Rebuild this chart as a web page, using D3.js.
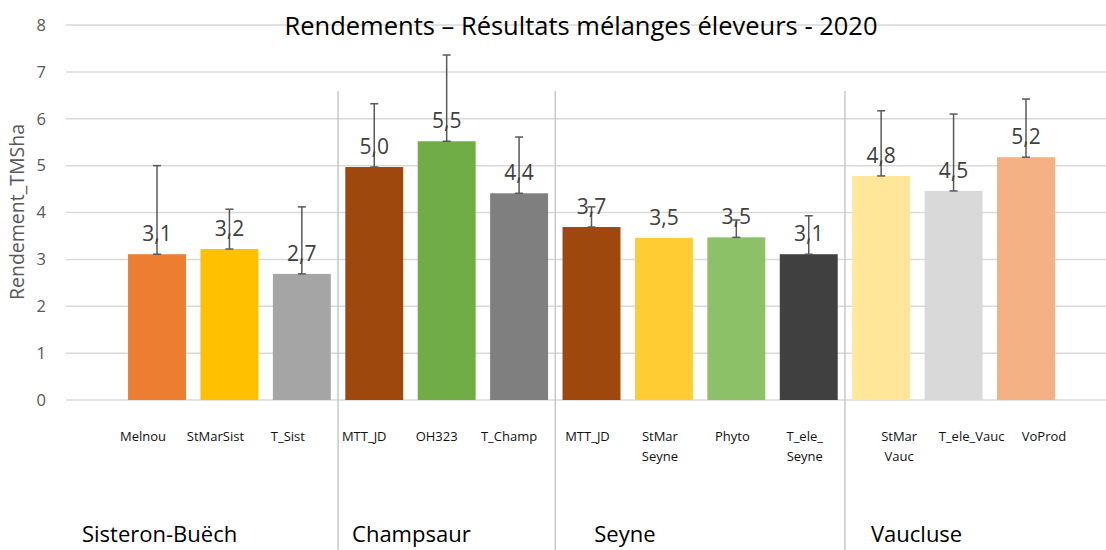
<!DOCTYPE html>
<html>
<head>
<meta charset="utf-8">
<script src="https://cdn.jsdelivr.net/npm/d3@7"></script>
<style>
  body { margin: 0; background: #fff; }
  svg { display: block; font-family: "Open Sans", sans-serif; }
</style>
</head>
<body>
<svg id="chart"></svg>
<script>
var w = 1106;
var h = 550;
var margin = { top: 25, right: 0, bottom: 150, left: 66 };

// data
var groups = ["Sisteron-Buëch", "Champsaur", "Seyne", "Vaucluse"];
var groupOf = [0, 0, 0, 1, 1, 1, 2, 2, 2, 2, 3, 3, 3];
var labels = ["Melnou", "StMarSist", "T_Sist", "MTT_JD", "OH323", "T_Champ",
  "MTT_JD", "StMar\nSeyne", "Phyto", "T_ele_\nSeyne",
  "StMar\nVauc", "T_ele_Vauc", "VoProd"];
var values = [3.11, 3.22, 2.69, 4.97, 5.52, 4.41, 3.69, 3.46, 3.47, 3.11, 4.78, 4.46, 5.18];
var errors = [1.89, 0.85, 1.43, 1.35, 1.84, 1.2, 0.43, 0, 0.37, 0.82, 1.39, 1.64, 1.24];
var colors = ["#ED7D31", "#FFC000", "#A5A5A5", "#9E480E", "#70AD47", "#7F7F7F",
  "#9E480E", "#FFCD33", "#8CC168", "#404040", "#FFE699", "#D9D9D9", "#F4B183"];
var yTicks = [0, 1, 2, 3, 4, 5, 6, 7, 8];

// hand-placed text boxes in the original
var labelNudge = [-14, -10, -4, 18];
var groupLabelNudge = [16, 14, 39, 26];

var svg = d3.select("#chart").attr("width", w).attr("height", h);

var xScale = d3
  .scaleBand()
  .domain(d3.range(values.length))
  .range([120.8, 1062.2])
  .paddingInner(0.2)
  .paddingOuter(0.1);

var yScale = d3
  .scaleLinear()
  .domain([0, 8])
  .range([400, margin.top]);

// gridlines
svg
  .append("g")
  .selectAll("line")
  .data(yTicks)
  .enter()
  .append("line")
  .attr("x1", margin.left)
  .attr("x2", w)
  .attr("y1", function(d) { return yScale(d); })
  .attr("y2", function(d) { return yScale(d); })
  .attr("stroke", "#d9d9d9")
  .attr("stroke-width", 1.5);

// y axis labels
var yAxis = svg
  .append("g")
  .attr("transform", "translate(" + margin.left + ",0)")
  .call(d3.axisLeft(yScale).tickValues(yTicks).tickSize(0).tickPadding(20));
yAxis.select(".domain").remove();
yAxis
  .selectAll("text")
  .style("font", "16.5px 'Open Sans', sans-serif")
  .attr("fill", "#595959");

svg
  .append("text")
  .attr("transform", "translate(24,212) rotate(-90)")
  .attr("text-anchor", "middle")
  .style("font-size", "19.5px")
  .attr("fill", "#595959")
  .text("Rendement_TMSha");

// group separators
var step = xScale.step();
var seps = [];
for (var i = 1; i < values.length; i++) {
  if (groupOf[i] !== groupOf[i - 1]) seps.push(i);
}
svg
  .append("g")
  .selectAll("line")
  .data(seps)
  .enter()
  .append("line")
  .attr("x1", function(d) { return xScale(d) - step * 0.1; })
  .attr("x2", function(d) { return xScale(d) - step * 0.1; })
  .attr("y1", 91)
  .attr("y2", h)
  .attr("stroke", "#c8c8c8")
  .attr("stroke-width", 1.5);

// bars
svg
  .append("g")
  .selectAll("rect")
  .data(values)
  .enter()
  .append("rect")
  .attr("x", function(d, i) { return xScale(i); })
  .attr("y", function(d) { return yScale(d); })
  .attr("width", xScale.bandwidth())
  .attr("height", function(d) { return yScale(0) - yScale(d); })
  .attr("fill", function(d, i) { return colors[i]; });

// error bars (upper only)
var cx = function(i) { return xScale(i) + xScale.bandwidth() / 2; };
var err = svg
  .append("g")
  .attr("stroke", "#595959")
  .attr("stroke-width", 1.5)
  .selectAll("g")
  .data(values.map(function(v, i) { return { v: v, e: errors[i], i: i }; })
    .filter(function(d) { return d.e > 0; }))
  .enter()
  .append("g");
err
  .append("line")
  .attr("x1", function(d) { return cx(d.i); })
  .attr("x2", function(d) { return cx(d.i); })
  .attr("y1", function(d) { return yScale(d.v); })
  .attr("y2", function(d) { return yScale(d.v + d.e); });
err
  .selectAll(".cap")
  .data(function(d) { return [d.v, d.v + d.e].map(function(y) { return { y: y, i: d.i }; }); })
  .enter()
  .append("line")
  .attr("x1", function(d) { return cx(d.i) - 4; })
  .attr("x2", function(d) { return cx(d.i) + 4; })
  .attr("y1", function(d) { return yScale(d.y); })
  .attr("y2", function(d) { return yScale(d.y); });

// value labels
svg
  .append("g")
  .selectAll("text")
  .data(values)
  .enter()
  .append("text")
  .attr("x", function(d, i) { return cx(i); })
  .attr("y", function(d) { return yScale(d) - 13; })
  .attr("text-anchor", "middle")
  .style("font-size", "21px")
  .attr("fill", "#404040")
  .text(function(d) { return d3.format(".1f")(d).replace(".", ","); });

// category labels
var cat = svg
  .append("g")
  .selectAll("text")
  .data(labels)
  .enter()
  .append("text")
  .attr("text-anchor", "middle")
  .style("font-size", "13px")
  .attr("fill", "#111");
cat
  .selectAll("tspan")
  .data(function(d, i) { return d.split("\n").map(function(t) { return { t: t, i: i }; }); })
  .enter()
  .append("tspan")
  .attr("x", function(d) { return cx(d.i) + labelNudge[groupOf[d.i]]; })
  .attr("y", function(d, j) { return 441 + j * 20; })
  .text(function(d) { return d.t; });

// group labels
var groupLeft = groups.map(function(g, k) {
  if (k === 0) return margin.left;
  return xScale(seps[k - 1]) - step * 0.1;
});
svg
  .append("g")
  .selectAll("text")
  .data(groups)
  .enter()
  .append("text")
  .attr("x", function(d, k) { return groupLeft[k] + groupLabelNudge[k]; })
  .attr("y", 542)
  .style("font-size", "22px")
  .attr("fill", "#000")
  .text(function(d) { return d; });

// title
svg
  .append("text")
  .attr("x", 581)
  .attr("y", 35)
  .attr("text-anchor", "middle")
  .style("font-size", "25.5px")
  .attr("fill", "#000")
  .text("Rendements – Résultats mélanges éleveurs - 2020");
</script>
</body>
</html>
